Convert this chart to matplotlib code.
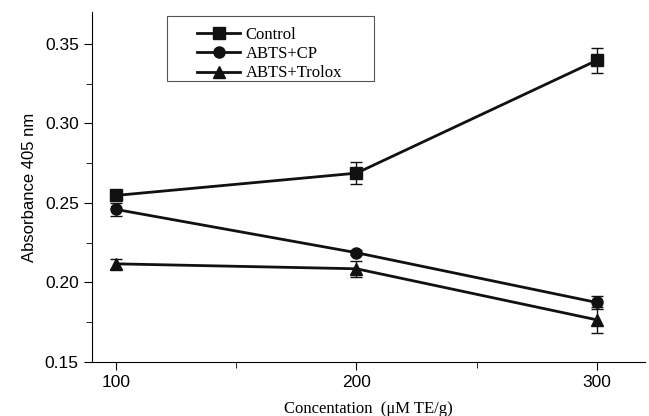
import matplotlib.pyplot as plt
from matplotlib.patches import Rectangle
from matplotlib.ticker import MultipleLocator

conc = [100, 200, 300]

control = [0.2547, 0.2687, 0.3396]
control_err = [0.002, 0.0068, 0.008]

cp = [0.2459, 0.2187, 0.1874]
cp_err = [0.004, 0.0015, 0.0043]

trolox = [0.2117, 0.2086, 0.1765]
trolox_err = [0.003, 0.005, 0.008]

fig = plt.figure(figsize=(6.49, 4.16), dpi=100)
ax = fig.add_axes([0.1418, 0.1298, 0.852, 0.8414])

series = [
    (control, control_err, "s", 8, "Control"),
    (cp, cp_err, "o", 8, "ABTS+CP"),
    (trolox, trolox_err, "^", 9, "ABTS+Trolox"),
]
for vals, err, mk, ms, name in series:
    ax.errorbar(conc, vals, yerr=err, fmt="none", ecolor="#111111",
                capsize=4, elinewidth=1)
    ax.plot(conc, vals, color="#111111", marker=mk, markersize=ms, lw=2,
            label=name)

ax.set_xlim(90, 320)
ax.set_ylim(0.15, 0.37)
ax.set_xticks(conc)
ax.xaxis.set_minor_locator(MultipleLocator(50))
ax.set_yticks([0.15, 0.20, 0.25, 0.30, 0.35])
ax.yaxis.set_minor_locator(MultipleLocator(0.025))
ax.yaxis.set_major_formatter(plt.FormatStrFormatter("%.2f"))

ax.spines["top"].set_visible(False)
ax.spines["right"].set_visible(False)
ax.tick_params(which="major", direction="out", length=6, labelsize=12.5)
ax.tick_params(which="minor", direction="out", length=4)
for lab in ax.get_xticklabels() + ax.get_yticklabels():
    lab.set_family("Liberation Sans")

ax.set_ylabel("Absorbance 405 nm", fontsize=12, family="Liberation Sans",
              labelpad=6)
ax.set_xlabel("Concentation  (\u03bcM TE/g)", fontsize=12,
              family="Liberation Serif", labelpad=8)

# legend frame drawn separately (wide box with roomy side margins)
ax.add_patch(Rectangle((0.1356, 0.8029), 0.3744, 0.1857,
                       transform=ax.transAxes, fill=False,
                       edgecolor="#555555", lw=0.8, zorder=5))
leg = ax.legend(loc="upper left", bbox_to_anchor=(0.19, 0.958),
                prop={"family": "Liberation Serif", "size": 12},
                frameon=False, borderaxespad=0, borderpad=0,
                handlelength=2.6, labelspacing=0.2, handletextpad=0.3)

plt.savefig("out.png", dpi=100)
